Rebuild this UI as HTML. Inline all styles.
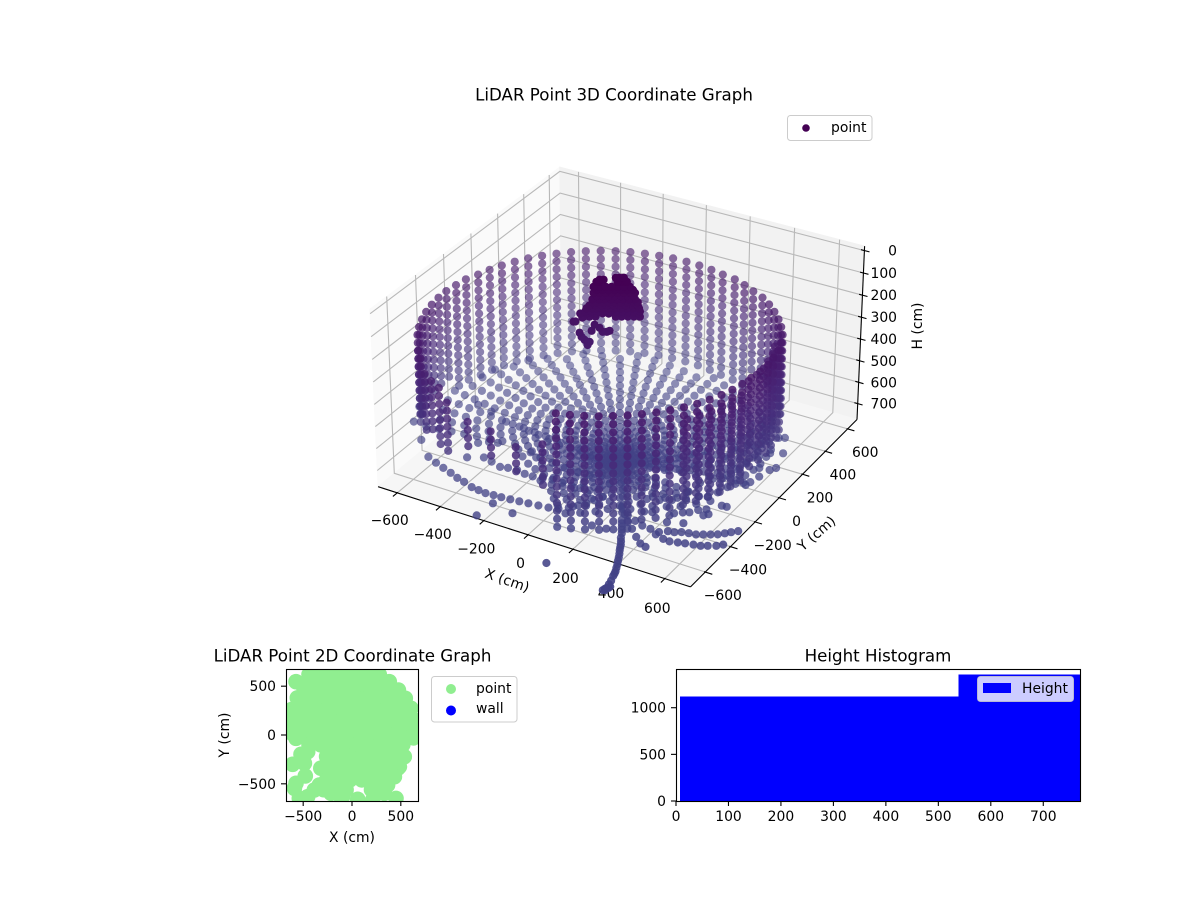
<!DOCTYPE html>
<html>
<head>
<meta charset="utf-8">
<title>LiDAR Point Graphs</title>
<style>
html,body{margin:0;padding:0;background:#fff;width:1200px;height:900px;overflow:hidden}
svg{display:block}
text{font-family:"DejaVu Sans","Liberation Sans",sans-serif;font-size:13.9px;fill:#000;dominant-baseline:central}
.title{font-size:16.67px;text-anchor:middle}
</style>
</head>
<body>
<svg id="figure" xmlns="http://www.w3.org/2000/svg" width="1200" height="900" viewBox="0 0 1200 900">
<defs>
<clipPath id="clip-2d"><rect x="286" y="669" width="132" height="132"/></clipPath>
<clipPath id="clip-hist"><rect x="676" y="669" width="404" height="132"/></clipPath>
</defs>
<rect width="1200" height="900" fill="#fff"/>
<text class="title" x="614" y="95">LiDAR Point 3D Coordinate Graph</text>
<g id="g3d"></g>
<text x="507" y="581" text-anchor="middle" transform="rotate(19 507 581)">X (cm)</text>
<text x="817" y="534" text-anchor="middle" transform="rotate(-41 817 534)">Y (cm)</text>
<text x="918" y="326" text-anchor="middle" transform="rotate(-90 918 326)">H (cm)</text>
<g>
<rect x="787.5" y="115.5" width="84.5" height="25" rx="3" fill="#fff" fill-opacity=".8" stroke="#ccc"/>
<circle cx="806" cy="128" r="3.8" fill="#440154"/>
<text x="831" y="128">point</text>
</g>

<text class="title" x="352.5" y="656">LiDAR Point 2D Coordinate Graph</text>
<g id="g2d"></g>
<text x="352" y="838" text-anchor="middle">X (cm)</text>
<text x="225" y="735" text-anchor="middle" transform="rotate(-90 225 735)">Y (cm)</text>
<g>
<rect x="431.5" y="676.5" width="85.5" height="45.5" rx="3" fill="#fff" stroke="#ccc"/>
<circle cx="451" cy="689" r="5" fill="#90ee90"/>
<text x="476" y="689">point</text>
<circle cx="451" cy="710.5" r="5" fill="#0000ff"/>
<text x="476" y="709">wall</text>
</g>

<text class="title" x="878" y="656">Height Histogram</text>
<g id="ghist"></g>
<g>
<rect x="977.5" y="676.5" width="96" height="25" rx="3" fill="#fff" fill-opacity=".8" stroke="#ccc" stroke-opacity=".8"/>
<rect x="983" y="683" width="28" height="10" fill="#0000ff"/>
<text x="1022" y="689">Height</text>
</g>
</svg>
<script>
// ---- 3D chart data (cm) ----
const xLim3d=[-690,710], yLim3d=[-715,685], hLim3d=[-20,775];
const xTicks3d=[-600,-400,-200,0,200,400,600];
const yTicks3d=[-600,-400,-200,0,200,400,600];
const hTicks3d=[0,100,200,300,400,500,600,700];
const wallCenterX=-65, wallCenterY=-58;
const wallRingH=[236,272,308,344,380,416,452,488,524,560,596,632,668,704,740];
const columnAzimuth=[0,5,10,15,20,25,30,35,40,45,50,55,60,65,70,75,80,85,90,95,100,105,110,115,120,125,130,135,140,145,150,155,160,165,170,175,180,185,190,195,200,205,210,215,220,225,230,235,240,245,250,255,260,265,270,275,280,285,290,295,300,305,310,315,320,325,330,335,340,345,350,355, 2.5,7.5,12.5,17.5,22.5,27.5,332.5,337.5,342.5,347.5,352.5,357.5];
const columnRadius=[670,680,690,695,705,710,715,715,715,715,715,715,708,708,708,700,700,700,700,700,700,700,700,700,700,700,700,700,700,700,700,700,700,700,708,708,712,712,712,712,712,712,712,710,705,700,690,680,675,665,655,650,640,635,630,625,622,620,620,620,620,620,622,625,630,635,640,645,650,655,660,665, 645,655,665,670,680,685,620,625,630,635,640,645];
const columnFirst=[0,0,0,0,0,0,0,0,0,0,0,0,0,0,0,0,0,0,0,0,0,0,0,0,0,0,0,0,0,0,0,0,0,0,0,0,0,0,0,0,0,0,0,1,1,2,2,2,3,5,4,5,4,5,5,5,4,0,0,0,0,0,0,0,0,0,0,0,0,0,0,0, 1,1,1,1,1,1,2,2,2,2,2,2];
const columnLast=[11,11,11,11,11,11,10,10,10,10,10,10,10,13,13,13,13,13,13,13,13,13,13,13,13,13,13,13,13,13,13,13,13,13,13,13,11,11,11,11,11,11,11,9,8,9,8,9,9,4,7,4,7,4,8,4,9,14,14,14,14,14,14,13,13,13,13,12,12,12,12,12, 11,11,11,11,11,11,12,12,12,12,12,12];
const floorLevelH=740;
const floorCenterX=74, floorCenterY=-141;
const floorRangeOdd=[30,75,125,175,225,280,335,390,445,500,555,610,665,720,775,830,885];
const floorRangeEven=[52,100,150,200,252,308,362,418,472,528,582,638,692,748,802,858,905];
const rayAzimuth=[15,20,25,30,35,40,45,50,55,60,65,70,75,80,85,90,95,100,105,110,115,120,125,130,135,140,145,150,155,160,165,170,175,180,185,190,195,202,210,217,225,232,240,247,255,262,270,277,285,292,300,307,315,322,330,337,345,352];
const rayMaxRange=[535,555,575,590,600,615,630,645,660,675,695,710,725,745,765,780,800,815,830,845,860,870,885,895,900,905,905,905,905,900,895,885,875,865,855,845,460,420,400,370,360,340,360,350,380,400,420,440,400,380,360,340,380,360,420,460,480,520];
const leftArcX=[-609,-559,-513,-468,-425,-386,-340,-305,-270,-235,-201,-163,-125,-87,-45,-4,34,64,88,107,122,137, -416,-373,-323,-292,-253,-212,-175,-133,-95,-50,-7,31,70,96,114, -654,-579,-485,-418,-368,-318,-266,-209,-159,-113,-56,2, -276,-222,-161,-98,-38,15,56];
const leftArcY=[-476,-498,-516,-532,-551,-563,-580,-585,-590,-587,-585,-580,-575,-570,-564,-557,-545,-518,-487,-458,-422,-386, -370,-381,-398,-389,-384,-393,-394,-388,-376,-376,-378,-375,-371,-337,-291, -36,-55,-92,-98,-107,-114,-119,-123,-131,-131,-153,-174, -244,-258,-268,-277,-278,-275,-251];
const rightArcX=[709,689,672,652,629,605,581,553,525,502,477,451,411,373,333,289,249, 704,685,657,634,606,575,548,517,488,448, 457,428,392,350,313,275,238, 68,121,173,222,254,287,320,351,372,398,409,418,427, 191,250,301,337,372,404,425,442,451, 307,352,393,408,416,446,481,491,502, 491,510,524,540,563];
const rightArcY=[-338,-358,-377,-397,-411,-425,-439,-445,-452,-466,-472,-495,-491,-487,-472,-452,-421, -449,-469,-485,-499,-505,-514,-522,-531,-528,-515, -610,-599,-567,-526,-493,-451,-410, -53,-51,-38,-20,17,63,109,163,230,281,324,402,480, -110,-94,-64,-8,49,112,179,243,321, -288,-271,-247,-185,-107,-54,-6,54,115, -182,-134,-81,-45,-22];
const strayX=[566,608,623,596,548,527,508,486,463,523,551,578,589,554,541,505,501,443,359,189,-103,-214,-206,-474,-495,-461,-427,-808,-854,-704,265,206, 74,84,64,80,68,74];
const strayY=[106,113,139,251,359,347,300,269,246,181,226,-32,-208,-290,-307,-283,-394,-419,-385,-891,-661,-743,-638,-403,-288,-260,-248,-278,-168,-382,-575,-583, -141,-130,-150,-155,-125,-160];
const tailX=[285,309,332,345,368,384,405,424,442,450,459,464,469,471,464,466,475,476,297,320,357,376,395,414,433,446, 120,150,180,205,235,260];
const tailY=[-491,-532,-573,-602,-643,-679,-722,-765,-810,-841,-872,-897,-920,-938,-942,-930,-918,-908,-512,-552,-622,-661,-700,-743,-788,-825, -215,-260,-300,-345,-395,-445];
const clusterX=[-75,-65,-4,13,27, -85,-65,-44,-24,-4,17,37, -85,-65,-44,-24,-4,17,37,54, -89,-68,-48,-27,-7,13,34,54, -99,-79,-58,-38,-17,3,24,44,64, -113,-92,-72,-51,-31,-10,10,30,51,71, -119,-99,-79,-10,10,30,51,71, -147,-153,-123,-133,-126,-116,-106,-99,-41,-55,-31,-82,-65, -75,-55,-34,-14,7,27,47, -75,-55,-34,-14,7,27,47, -89,-75,-55,-34,-14,7,27,47,64, -109,-89,-75,-55,-34,-14,7,27,47,68, -130,-109,-89,-75,-55,-34,-14,7,27,47,68, 3,-10,17,-65,-51,-92];
const clusterY=[-64,-58,-23,-13,-5, -70,-58,-46,-35,-23,-11,1, -70,-58,-46,-35,-23,-11,1,11, -72,-60,-48,-37,-25,-13,-1,11, -78,-66,-54,-42,-31,-19,-7,5,16, -86,-74,-62,-50,-39,-27,-15,-3,9,20, -90,-78,-66,-27,-15,-3,9,20, -105,-109,-92,-97,-94,-88,-82,-78,-44,-52,-39,-68,-58, -64,-52,-41,-29,-17,-5,7, -64,-52,-41,-29,-17,-5,7, -72,-64,-52,-41,-29,-17,-5,7,16, -84,-72,-64,-52,-41,-29,-17,-5,7,18, -96,-84,-72,-64,-52,-41,-29,-17,-5,7,18, -19,-27,-11,-58,-50,-74];
const clusterH=[1,1,1,1,1, 23,23,23,23,23,23,23, 50,50,50,50,50,50,50,50, 78,78,78,78,78,78,78,78, 105,105,105,105,105,105,105,105,105, 132,132,132,132,132,132,132,132,132,132, 155,155,155,155,155,155,155,155, 177,177,159,227,245,259,282,268,223,223,218,191,205, 37,37,37,37,37,37,37, 64,64,64,64,64,64,64, 91,91,91,91,91,91,91,91,91, 118,118,118,118,118,118,118,118,118,118, 141,141,141,141,141,141,141,141,141,141,141, -17,-17,-17,-8,-8,218];

// ---- 2D chart data (cm) ----
const xLim2d=[-676,676], yLim2d=[-676,676];
const xTicks2d=[-500,0,500], yTicks2d=[-500,0,500];
const flatX=[-440,-320,-200,-80,40,160,280, -500,-380,-260,-140,-20,100,220,340, -560,-440,-320,-200,-80,40,160,280,400,520, -620,-500,-380,-260,-140,-20,100,220,340,460,580, -620,-560,-440,-320,-200,-80,40,160,280,400,520,630, -620,-500,-380,-260,-140,-20,100,220,340,460,580,630, -440,-320,-200,-80,40,160,280,400,520, -260,-140,-20,100,220,340,460,530, -320,-200,-80,40,160,280,400,470, -260,-140,-20,100,220,340, -290,-170,-60,200,300, -574,382,475,546,604,639,630,630,622,536,485,434,365,263,212,451,58,-96,-215,-335,-574,-522,-454,-608,-488,-478,-574,-590,-540,-454,-386,-130,331];
const flatY=[620,620,620,620,620,620,620, 500,500,500,500,500,500,500,500, 380,380,380,380,380,380,380,380,380,380, 260,260,260,260,260,260,260,260,260,260,260, 140,140,140,140,140,140,140,140,140,140,140,140, 20,20,20,20,20,20,20,20,20,20,20,20, -100,-100,-100,-100,-100,-100,-100,-100,-100, -220,-220,-220,-220,-220,-220,-220,-220, -340,-340,-340,-340,-340,-340,-340,-340, -460,-460,-460,-460,-460,-460, -560,-560,-560,-560,-560, 546,546,461,376,273,154,80,-30,-17,-222,-324,-427,-512,-580,-666,-649,-659,-632,-598,-512,-34,-198,-171,-300,-290,-420,-495,-546,-649,-632,-563,-615,-598];

// ---- Histogram data ----
const histEdges=[8,538,1068];
const histCounts=[1118,1354];
const xTicksHist=[0,100,200,300,400,500,600,700];
const yTicksHist=[0,500,1000];
const xLimHist=[0,770], yLimHist=[0,1415];

const NS='http://www.w3.org/2000/svg';
function mk(parent,tag,attrs,txt){
  const n=document.createElementNS(NS,tag);
  for(const k in attrs)n.setAttribute(k,attrs[k]);
  if(txt!==undefined)n.textContent=txt;
  parent.appendChild(n);
  return n;
}
function minus(v){return String(v).replace('-','\u2212');}

// ---- 3D projection ----
function project(x,y,h){
  const X=((x-xLim3d[0])/(xLim3d[1]-xLim3d[0])-.5)*1.1428;
  const Y=((y-yLim3d[0])/(yLim3d[1]-yLim3d[0])-.5)*1.1428;
  const Z=(.5-(h-hLim3d[0])/(hLim3d[1]-hLim3d[0]))*.65;
  const u=.866*X+.5*Y, v=-.25*X+.433*Y+.866*Z, w=.433*X-.75*Y+.5*Z, d=10-w;
  return [621.8+3117*u/d,366.2-3117*v/d,w];
}
const g3=document.getElementById('g3d');
const xa=xLim3d[0],xb=xLim3d[1],ya=yLim3d[0],yb=yLim3d[1],ht=hLim3d[0],hb=hLim3d[1];
function poly(parent,corners,fill,name){
  const p=mk(parent,'polygon',{points:corners.map(c=>{const q=project(c[0],c[1],c[2]);return q[0].toFixed(1)+','+q[1].toFixed(1);}).join(' '),fill:fill,stroke:fill,'stroke-width':1});
  
  
}
poly(g3,[[xa,ya,hb],[xa,yb,hb],[xa,yb,ht],[xa,ya,ht]],'#fafafa','left-pane');
poly(g3,[[xa,yb,hb],[xb,yb,hb],[xb,yb,ht],[xa,yb,ht]],'#f2f2f2','back-pane');
poly(g3,[[xa,ya,hb],[xb,ya,hb],[xb,yb,hb],[xa,yb,hb]],'#f6f6f6','floor-pane');
function path3(parent,pts,color,width,name){
  const d=pts.map((c,i)=>{const q=project(c[0],c[1],c[2]);return (i?'L':'M')+q[0].toFixed(1)+' '+q[1].toFixed(1);}).join('');
  const p=mk(parent,'path',{d:d,fill:'none',stroke:color,'stroke-width':width});
  
  
}
xTicks3d.forEach(t=>path3(g3,[[t,ya,hb],[t,yb,hb],[t,yb,ht]],'#b8b8b8',1.1,'x-gridline'));
yTicks3d.forEach(t=>path3(g3,[[xb,t,hb],[xa,t,hb],[xa,t,ht]],'#b8b8b8',1.1,'y-gridline'));
hTicks3d.forEach(t=>path3(g3,[[xa,ya,t],[xa,yb,t],[xb,yb,t]],'#b8b8b8',1.1,'h-gridline'));
path3(g3,[[xa,ya,hb],[xb,ya,hb]],'#000',1.1,'x-axis-line');
path3(g3,[[xb,ya,hb],[xb,yb,hb]],'#000',1.1,'y-axis-line');
path3(g3,[[xb,yb,hb],[xb,yb,ht]],'#000',1.1,'h-axis-line');
function label(parent,x,y,str,anchor,name){
  const t=mk(parent,'text',{x:x.toFixed(1),y:y.toFixed(1),'text-anchor':anchor},str);
  
  
}
xTicks3d.forEach(t=>{
  path3(g3,[[t,ya+5,hb],[t,ya-30,hb]],'#000',1.1,'x-tick');
  const q=project(t,ya,hb);
  label(g3,q[0]-7.5,q[1]+28+(t+600)/500,minus(t),'middle','x-tick-label');
});
yTicks3d.forEach(t=>{
  path3(g3,[[xb-5,t,hb],[xb+30,t,hb]],'#000',1.1,'y-tick');
  const q=project(xb,t,hb);
  label(g3,q[0]+17.5,q[1]+24,minus(t),'middle','y-tick-label');
});
const hLabelRight=897;
hTicks3d.forEach(t=>{
  path3(g3,[[xb-15,yb,t],[xb+22,yb,t]],'#000',1.1,'h-tick');
  const q=project(xb,yb,t);
  label(g3,hLabelRight,q[1]+1,String(t),'end','h-tick-label');
});

// colour scale: viridis lower range by height
const colourStops=[[68,1,84],[72,37,118],[65,68,135]];
function heightColour(h){
  const t=Math.max(0,Math.min(1.999,h/770*2));
  const i=Math.floor(t),f=t-i;
  const a=colourStops[i],b=colourStops[i+1];
  return 'rgb('+[0,1,2].map(k=>Math.round(a[k]+(b[k]-a[k])*f)).join(',')+')';
}
const marks=[];
columnAzimuth.forEach((az,i)=>{
  const rad=az*Math.PI/180;
  const cx=wallCenterX+columnRadius[i]*Math.cos(rad);
  const cy=wallCenterY+columnRadius[i]*Math.sin(rad);
  for(let r=columnFirst[i];r<=columnLast[i];r++)marks.push([cx,cy,wallRingH[r],0]);
});
rayAzimuth.forEach((az,i)=>{
  const rad=az*Math.PI/180;
  const ranges=i%2?floorRangeOdd:floorRangeEven;
  ranges.forEach(range=>{
    if(range<=rayMaxRange[i])marks.push([floorCenterX+range*Math.cos(rad),floorCenterY+range*Math.sin(rad),floorLevelH,0]);
  });
});
[[leftArcX,leftArcY],[rightArcX,rightArcY],[strayX,strayY],[tailX,tailY]].forEach(s=>{
  s[0].forEach((x,i)=>marks.push([x,s[1][i],floorLevelH,0]));
});
clusterX.forEach((x,i)=>marks.push([x,clusterY[i],clusterH[i],1]));
const projected=marks.map(m=>{const q=project(m[0],m[1],m[2]);return {q:q,h:m[2],solid:m[3]};});
projected.sort((a,b)=>a.q[2]-b.q[2]);
const gPts=mk(g3,'g',{});


projected.forEach(p=>{
  const c=mk(gPts,'circle',{cx:p.q[0].toFixed(1),cy:p.q[1].toFixed(1),r:4.1,fill:heightColour(p.h),'fill-opacity':p.solid?1:Math.max(.35,Math.min(1,.74+.3*p.q[2])).toFixed(2)});
  
  
});

// ---- 2D chart ----
const g2=document.getElementById('g2d');
const sx2=v=>286+(v-xLim2d[0])/(xLim2d[1]-xLim2d[0])*132;
const sy2=v=>801-(v-yLim2d[0])/(yLim2d[1]-yLim2d[0])*132;
const gFlat=mk(g2,'g',{'clip-path':'url(#clip-2d)'});


flatX.forEach((x,i)=>{
  const c=mk(gFlat,'circle',{cx:sx2(x).toFixed(1),cy:sy2(flatY[i]).toFixed(1),r:7.8,fill:'#90ee90'});
  
  
});
function frame(parent,x,y,w,h,name){
  const r=mk(parent,'rect',{x:x+.5,y:y+.5,width:w,height:h,fill:'none',stroke:'#000','stroke-width':1.1});
  
  
}
function tick(parent,x1,y1,x2,y2,name){
  const l=mk(parent,'line',{x1:x1,y1:y1,x2:x2,y2:y2,stroke:'#000','stroke-width':1.1});
  
  
}
frame(g2,286,669,132,132,'axes-2d-frame');
xTicks2d.forEach(t=>{const x=sx2(t);tick(g2,x,801,x,806,'x-tick-2d');label(g2,x,817,minus(t),'middle','x-tick-label-2d');});
yTicks2d.forEach(t=>{const y=sy2(t);tick(g2,281,y,286,y,'y-tick-2d');label(g2,276,y+1,minus(t),'end','y-tick-label-2d');});

// ---- Histogram ----
const gh=document.getElementById('ghist');
const sxH=v=>676+(v-xLimHist[0])/(xLimHist[1]-xLimHist[0])*404;
const syH=v=>801-(v-yLimHist[0])/(yLimHist[1]-yLimHist[0])*132;
const gBars=mk(gh,'g',{'clip-path':'url(#clip-hist)','shape-rendering':'crispEdges'});


histCounts.forEach((c,i)=>{
  const x0=sxH(histEdges[i]),x1=sxH(histEdges[i+1]),y=syH(c);
  const r=mk(gBars,'rect',{x:x0.toFixed(1),y:y.toFixed(1),width:(x1-x0+.5).toFixed(1),height:(801-y).toFixed(1),fill:'#0000ff'});
  
  
});
frame(gh,676,669,404,132,'axes-histogram-frame');
xTicksHist.forEach(t=>{const x=sxH(t);tick(gh,x,801,x,806,'x-tick-histogram');label(gh,x,817,String(t),'middle','x-tick-label-histogram');});
yTicksHist.forEach(t=>{const y=syH(t);tick(gh,671,y,676,y,'y-tick-histogram');label(gh,666,y+1,String(t),'end','y-tick-label-histogram');});
</script>
</body>
</html>
